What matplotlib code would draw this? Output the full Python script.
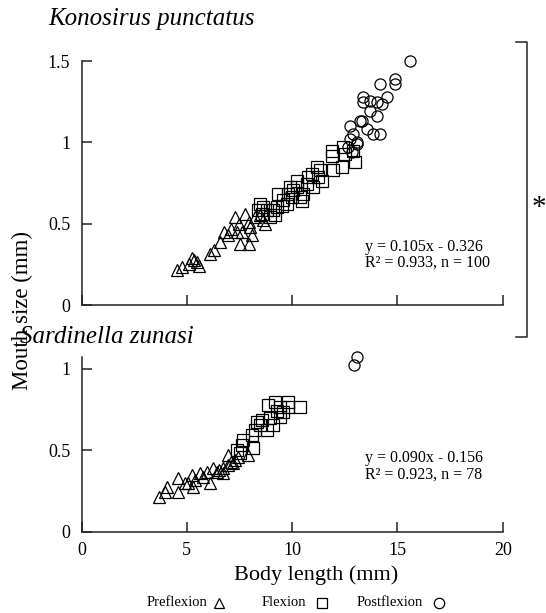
import matplotlib
matplotlib.use("Agg")
import matplotlib.pyplot as plt
from matplotlib.lines import Line2D

plt.rcParams['font.family'] = ['Liberation Serif', 'DejaVu Sans']

# ---------------- Konosirus punctatus ----------------
kp_pre_x = [4.53, 4.77, 5.09, 5.32, 5.24, 5.48, 5.56, 6.11, 6.27, 6.75, 6.59, 7.30, 7.77,
            7.46, 7.38, 7.93, 8.01, 7.62, 7.93, 7.54, 8.09, 8.64, 8.72, 8.25, 8.48, 7.10, 6.95]
kp_pre_y = [0.214, 0.235, 0.255, 0.276, 0.286, 0.265, 0.240, 0.316, 0.337, 0.449, 0.388, 0.541, 0.561,
            0.500, 0.449, 0.510, 0.480, 0.449, 0.378, 0.378, 0.429, 0.520, 0.500, 0.541, 0.551, 0.47, 0.43]

kp_flex_x = [8.48, 8.63, 8.56, 8.79, 8.95, 9.19, 9.27, 9.11, 9.35, 9.58, 9.74, 9.82, 9.98, 10.06,
             10.22, 10.22, 10.38, 10.53, 10.69, 10.77, 11.01, 11.17, 11.24, 11.40, 11.33, 11.88,
             11.88, 11.96, 12.35, 12.43, 12.51, 12.91, 12.99, 8.40, 9.90, 10.93, 9.50, 10.45]
kp_flex_y = [0.623, 0.602, 0.561, 0.582, 0.541, 0.551, 0.602, 0.582, 0.684, 0.643, 0.623, 0.684, 0.663, 0.704,
             0.765, 0.724, 0.663, 0.684, 0.745, 0.786, 0.724, 0.847, 0.786, 0.765, 0.827, 0.949,
             0.918, 0.827, 0.847, 0.969, 0.929, 0.949, 0.878, 0.582, 0.724, 0.806, 0.610, 0.640]

kp_post_x = [15.60, 14.89, 14.89, 14.17, 13.38, 13.38, 13.70, 14.02, 14.25, 14.49, 13.70, 14.02,
             13.30, 13.54, 13.86, 14.17, 12.75, 12.75, 13.07, 12.83, 12.67, 13.22, 13.10, 12.90]
kp_post_y = [1.500, 1.388, 1.357, 1.357, 1.276, 1.245, 1.255, 1.245, 1.235, 1.276, 1.194, 1.163,
             1.133, 1.082, 1.051, 1.051, 1.102, 1.021, 0.990, 0.939, 0.969, 1.133, 1.000, 1.050]

# ---------------- Sardinella zunasi ----------------
sz_pre_x = [3.68, 3.96, 4.05, 4.60, 4.60, 5.07, 5.23, 5.31, 5.39, 5.63, 5.94, 6.10, 6.26, 6.42,
            6.73, 6.73, 6.97, 7.21, 7.29, 6.97, 7.45, 7.92, 5.78, 4.90, 6.55, 7.10]
sz_pre_y = [0.216, 0.247, 0.278, 0.247, 0.329, 0.298, 0.349, 0.278, 0.318, 0.359, 0.369, 0.298, 0.390, 0.369,
            0.390, 0.359, 0.410, 0.421, 0.441, 0.472, 0.461, 0.472, 0.339, 0.300, 0.380, 0.430]

sz_flex_x = [8.87, 9.19, 9.43, 9.82, 9.82, 10.38, 9.43, 9.11, 8.48, 8.32, 8.79, 8.24, 8.08, 7.68,
             7.61, 8.16, 7.53, 7.37, 8.56, 9.58, 8.95, 9.30]
sz_flex_y = [0.778, 0.798, 0.767, 0.798, 0.767, 0.767, 0.706, 0.655, 0.655, 0.675, 0.625, 0.625, 0.594, 0.563,
             0.533, 0.512, 0.482, 0.502, 0.686, 0.737, 0.700, 0.740]

sz_post_x = [12.92, 13.08]
sz_post_y = [1.02, 1.07]

xticks = [0, 5, 10, 15, 20]
top_yticks = [0, 0.5, 1, 1.5]
top_yticklabels = ['0', '0.5', '1', '1.5']
bot_yticks = [0, 0.5, 1]
bot_yticklabels = ['0', '0.5', '1']

W, H = 546, 613
fig = plt.figure(figsize=(W / 100, H / 100), dpi=100)

def fx(px):
    return px / W

def fy(py):
    return 1 - py / H

ax1 = fig.add_axes([fx(81.5), fy(305), (502.7 - 81.5) / W, (305 - 61) / H])
ax2 = fig.add_axes([fx(81.5), fy(532), (502.7 - 81.5) / W, (532 - 357) / H])

mk = dict(linestyle='none', markerfacecolor='none', markeredgecolor='black',
          markeredgewidth=0.9, clip_on=False)

for ax, pre, flex, post in [
    (ax1, (kp_pre_x, kp_pre_y), (kp_flex_x, kp_flex_y), (kp_post_x, kp_post_y)),
    (ax2, (sz_pre_x, sz_pre_y), (sz_flex_x, sz_flex_y), (sz_post_x, sz_post_y)),
]:
    ax.plot(*pre, marker='^', markersize=8, **mk)
    ax.plot(*flex, marker='s', markersize=8, **mk)
    ax.plot(*post, marker='o', markersize=8, **mk)
    ax.set_xlim(0, 20)
    ax.set_xticks(xticks)
    for s in ['top', 'right']:
        ax.spines[s].set_visible(False)
    for s in ['left', 'bottom']:
        ax.spines[s].set_linewidth(1.1)
        ax.spines[s].set_color('#222222')
    ax.tick_params(direction='in', length=7, width=1.1, colors='#222222',
                   labelsize=13, labelcolor='black', pad=8)

ax1.set_ylim(0, 1.5)
ax1.set_yticks(top_yticks)
ax1.set_yticklabels(top_yticklabels)
ax1.tick_params(axis='x', labelbottom=False)

ax2.set_ylim(0, 1.0716)
ax2.set_yticks(bot_yticks)
ax2.set_yticklabels(bot_yticklabels)
ax2.set_xticklabels([str(t) for t in xticks])
ax2.tick_params(axis='x', pad=7)

# regression annotations
ax1.text(0.673, 0.205, 'y = 0.105x - 0.326\nR² = 0.933, n = 100', transform=ax1.transAxes,
         fontsize=11.5, va='center', ha='left', linespacing=1.0)
ax2.text(0.673, 0.375, 'y = 0.090x - 0.156\nR² = 0.923, n = 78', transform=ax2.transAxes,
         fontsize=11.5, va='center', ha='left', linespacing=1.0)

# titles
fig.text(fx(48), fy(19), 'Konosirus punctatus', style='italic', fontsize=18, va='center', ha='left')
fig.text(fx(20), fy(337), 'Sardinella zunasi', style='italic', fontsize=18, va='center', ha='left')

# axis labels
fig.text(fx(22), fy(310), 'Mouth size (mm)', rotation=90, fontsize=16.5, va='center', ha='center')
fig.text(fx(316), fy(575), 'Body length (mm)', fontsize=16, va='center', ha='center')

# legend text
fig.text(fx(147), fy(603), 'Preflexion', fontsize=10.5, va='center', ha='left')
fig.text(fx(262), fy(603), 'Flexion', fontsize=10.5, va='center', ha='left')
fig.text(fx(357), fy(603), 'Postflexion', fontsize=10.5, va='center', ha='left')
for px, m in [(219, '^'), (322, 's'), (439, 'o')]:
    fig.add_artist(Line2D([fx(px)], [fy(603)], marker=m, markersize=7.5,
                          markerfacecolor='none', markeredgecolor='black',
                          markeredgewidth=0.9, linestyle='none', transform=fig.transFigure))

# significance bracket
fig.add_artist(Line2D([fx(516), fx(527), fx(527), fx(516)], [fy(42), fy(42), fy(337), fy(337)],
                      color='#222222', linewidth=1.1, transform=fig.transFigure))
fig.text(fx(538.5), fy(208), '*', fontsize=21, va='center', ha='center')

fig.savefig('out.png', dpi=100)
